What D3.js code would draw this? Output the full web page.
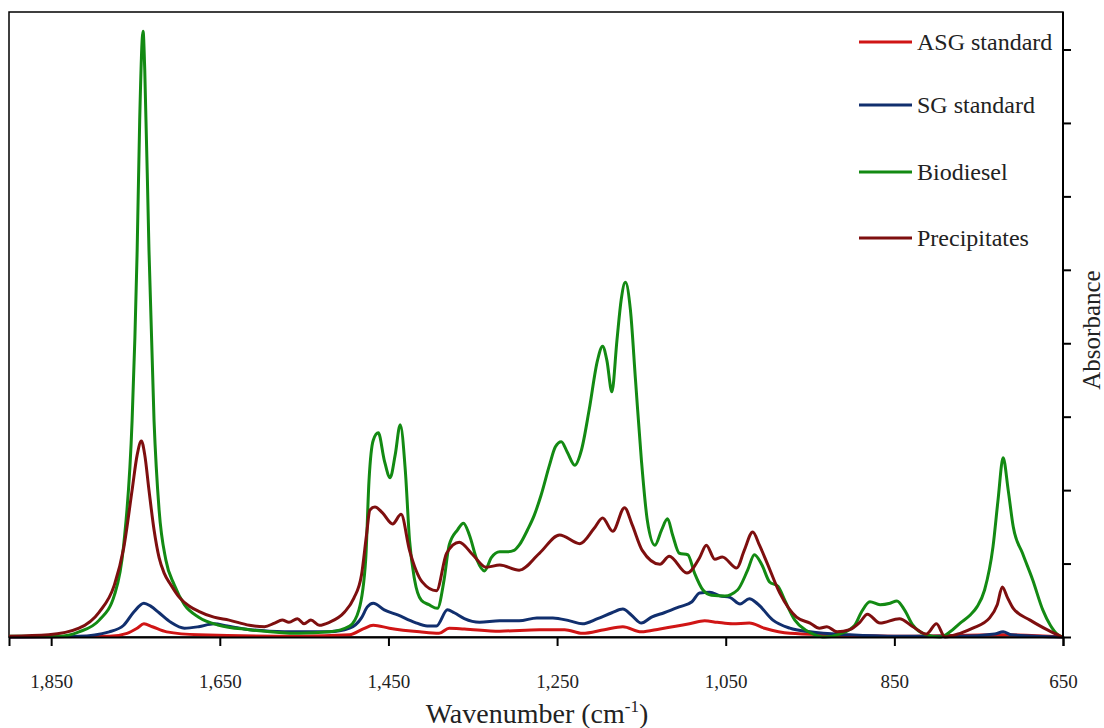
<!DOCTYPE html>
<html>
<head>
<meta charset="utf-8">
<script src="https://cdn.jsdelivr.net/npm/d3@7"></script>
<style>
  html, body { margin: 0; padding: 0; background: #fff; }
  svg { display: block; font-family: "Liberation Serif", "Times New Roman", serif; }
</style>
</head>
<body>
<svg id="ftir" width="1104" height="728"></svg>
<script>
// FTIR spectra, wavenumber (cm-1) vs absorbance
const asgWn  = [1900,1781,1760,1748,1740,1730,1713,1675,1556,1496,1480,1468,1449,1413,1390,1378,1360,1318,1271,1241,1220,1194,1172,1150,1128,1093,1075,1060,1042,1022,1004,974,927,844,721,650];
const asgAbs = [0,0.001,0.005,0.012,0.018,0.014,0.007,0.003,0.001,0.003,0.011,0.016,0.012,0.007,0.005,0.012,0.011,0.008,0.010,0.010,0.005,0.010,0.014,0.007,0.011,0.018,0.022,0.020,0.018,0.019,0.012,0.005,0.003,0.001,0.003,0];

const sgWn  = [1900,1817,1781,1764,1752,1740,1732,1722,1708,1692,1675,1657,1641,1621,1591,1556,1520,1496,1482,1475,1468,1455,1439,1419,1404,1393,1380,1372,1360,1342,1318,1295,1274,1255,1235,1220,1202,1185,1172,1162,1150,1138,1123,1105,1090,1081,1069,1057,1045,1033,1022,1012,994,974,950,903,844,772,731,721,711,650];
const sgAbs = [0,0.001,0.007,0.016,0.034,0.046,0.042,0.033,0.020,0.012,0.014,0.018,0.015,0.011,0.008,0.007,0.007,0.012,0.026,0.041,0.046,0.037,0.030,0.020,0.015,0.015,0.037,0.033,0.025,0.020,0.022,0.022,0.026,0.026,0.022,0.018,0.025,0.033,0.038,0.030,0.019,0.027,0.033,0.041,0.048,0.060,0.061,0.056,0.054,0.045,0.052,0.045,0.023,0.012,0.007,0.003,0.001,0.001,0.004,0.007,0.003,0];

const bioWn  = [1900,1841,1817,1793,1775,1764,1754,1748,1745,1741,1739,1734,1728,1722,1714,1704,1692,1675,1651,1615,1556,1520,1496,1485,1477,1473,1468,1462,1455,1448,1442,1436,1430,1425,1419,1411,1402,1392,1384,1378,1368,1361,1354,1345,1336,1328,1318,1309,1301,1295,1285,1277,1269,1259,1252,1245,1238,1229,1221,1212,1202,1196,1191,1185,1179,1174,1169,1163,1157,1150,1143,1134,1126,1119,1113,1105,1095,1087,1077,1067,1051,1036,1024,1016,1007,998,988,980,968,956,944,933,915,897,889,879,867,855,847,838,828,814,796,784,772,760,752,743,733,727,721,715,709,698,686,674,665,657,650];
const bioAbs = [0.001,0.001,0.007,0.023,0.057,0.125,0.295,0.527,0.704,0.825,0.772,0.527,0.295,0.173,0.105,0.071,0.044,0.027,0.016,0.010,0.005,0.007,0.015,0.037,0.105,0.214,0.268,0.278,0.241,0.217,0.248,0.289,0.227,0.132,0.078,0.050,0.044,0.039,0.078,0.125,0.146,0.155,0.139,0.105,0.090,0.108,0.116,0.116,0.118,0.125,0.146,0.166,0.193,0.234,0.259,0.266,0.252,0.234,0.255,0.309,0.377,0.396,0.377,0.334,0.404,0.459,0.483,0.445,0.350,0.241,0.159,0.125,0.146,0.161,0.139,0.114,0.112,0.087,0.064,0.057,0.056,0.064,0.091,0.112,0.098,0.075,0.069,0.050,0.023,0.010,0.003,0,0.004,0.016,0.034,0.048,0.044,0.046,0.049,0.037,0.016,0.004,0,0.007,0.019,0.030,0.041,0.064,0.123,0.187,0.244,0.200,0.150,0.114,0.078,0.037,0.016,0.004,0];

const preWn  = [1900,1853,1817,1793,1775,1764,1754,1748,1743,1739,1734,1728,1722,1716,1708,1698,1686,1675,1657,1639,1615,1597,1585,1576,1568,1558,1550,1542,1532,1520,1502,1491,1482,1476,1472,1466,1457,1445,1435,1425,1410,1393,1381,1366,1350,1334,1318,1295,1271,1247,1223,1206,1196,1184,1170,1161,1149,1128,1117,1096,1081,1073,1063,1054,1037,1028,1018,1010,1001,986,966,950,939,930,918,903,891,882,867,844,828,812,800,790,772,757,737,728,722,716,709,689,669,651];
const preAbs = [0.001,0.003,0.012,0.034,0.071,0.121,0.200,0.248,0.267,0.248,0.200,0.146,0.108,0.087,0.071,0.054,0.042,0.035,0.027,0.023,0.016,0.014,0.019,0.023,0.020,0.025,0.018,0.023,0.016,0.020,0.034,0.053,0.084,0.139,0.173,0.177,0.169,0.154,0.167,0.118,0.075,0.063,0.114,0.129,0.112,0.095,0.098,0.091,0.114,0.139,0.127,0.148,0.162,0.144,0.176,0.153,0.118,0.099,0.110,0.087,0.108,0.125,0.106,0.109,0.094,0.118,0.143,0.125,0.101,0.060,0.027,0.019,0.012,0.014,0.007,0.010,0.020,0.031,0.019,0.025,0.014,0.004,0.018,0,0.005,0.012,0.026,0.044,0.068,0.054,0.039,0.023,0.010,0];

const seriesNames  = ["ASG standard", "SG standard", "Biodiesel", "Precipitates"];
const seriesColors = ["#d01515", "#112f6e", "#138a13", "#7e0f0f"];
const xTicks = [1850, 1650, 1450, 1250, 1050, 850, 650];
const yTicks = [0, 0.1, 0.2, 0.3, 0.4, 0.5, 0.6, 0.7, 0.8];

const series = [
  { name: seriesNames[0], color: seriesColors[0], pts: d3.zip(asgWn, asgAbs) },
  { name: seriesNames[1], color: seriesColors[1], pts: d3.zip(sgWn, sgAbs) },
  { name: seriesNames[2], color: seriesColors[2], pts: d3.zip(bioWn, bioAbs) },
  { name: seriesNames[3], color: seriesColors[3], pts: d3.zip(preWn, preAbs) }
];

const svg = d3.select("#ftir");
const L = 9, R = 1063, T = 12, B = 637;

const x = d3.scaleLinear().domain([1900, 650]).range([L, R]);
const y = d3.scaleLinear().domain([0, 0.8]).range([B, 49.5]);

const line = d3.line()
  .x(d => x(d[0]))
  .y(d => y(d[1]))
  .curve(d3.curveMonotoneX);

// frame
svg.append("rect")
  .attr("x", L).attr("y", T)
  .attr("width", R - L).attr("height", B - T)
  .attr("fill", "none").attr("stroke", "#000").attr("stroke-width", 1.5);

// spectra
svg.append("g").selectAll("path")
  .data(series)
  .join("path")
  .attr("d", d => line(d.pts))
  .attr("fill", "none")
  .attr("stroke", d => d.color)
  .attr("stroke-width", 3)
  .attr("stroke-linejoin", "round");

// bottom axis
const xAxis = d3.axisBottom(x)
  .tickValues(xTicks)
  .tickSize(9)
  .tickPadding(29)
  .tickFormat(d3.format(","));
const gx = svg.append("g").attr("transform", `translate(0,${B})`).call(xAxis);
gx.select(".domain").attr("stroke-width", 2);
gx.selectAll(".tick line").attr("stroke-width", 2);
gx.selectAll("text")
  .attr("font-family", "Liberation Serif, Times New Roman, serif")
  .attr("font-size", 19).attr("fill", "#222");

// right axis, no labels
const yAxis = d3.axisRight(y)
  .tickValues(yTicks)
  .tickSize(8)
  .tickFormat("");
const gy = svg.append("g").attr("transform", `translate(${R},0)`).call(yAxis);
gy.select(".domain").remove();
gy.append("line").attr("x1", 0).attr("x2", 0).attr("y1", T).attr("y2", B)
  .attr("stroke", "#000").attr("stroke-width", 2);
gy.selectAll(".tick line").attr("stroke-width", 2);

// axis titles
const xt = svg.append("text")
  .attr("x", 537).attr("y", 723)
  .attr("text-anchor", "middle")
  .attr("font-size", 28).attr("fill", "#222");
xt.append("tspan").text("Wavenumber (cm");
xt.append("tspan").attr("dy", -11).attr("font-size", 17).text("-1");
xt.append("tspan").attr("dy", 11).text(")");

svg.append("text")
  .attr("transform", "translate(1100,330) rotate(-90)")
  .attr("text-anchor", "middle")
  .attr("font-size", 25).attr("fill", "#222")
  .text("Absorbance");

// legend
const legY = [42, 105, 172, 238];
const leg = svg.append("g").selectAll("g")
  .data(series)
  .join("g")
  .attr("transform", (d, i) => `translate(859,${legY[i]})`);
leg.append("line")
  .attr("x1", 0).attr("x2", 53)
  .attr("stroke", d => d.color).attr("stroke-width", 3);
leg.append("text")
  .attr("x", 58).attr("y", 8)
  .attr("font-size", 24).attr("fill", "#222")
  .text(d => d.name);
</script>
</body>
</html>
